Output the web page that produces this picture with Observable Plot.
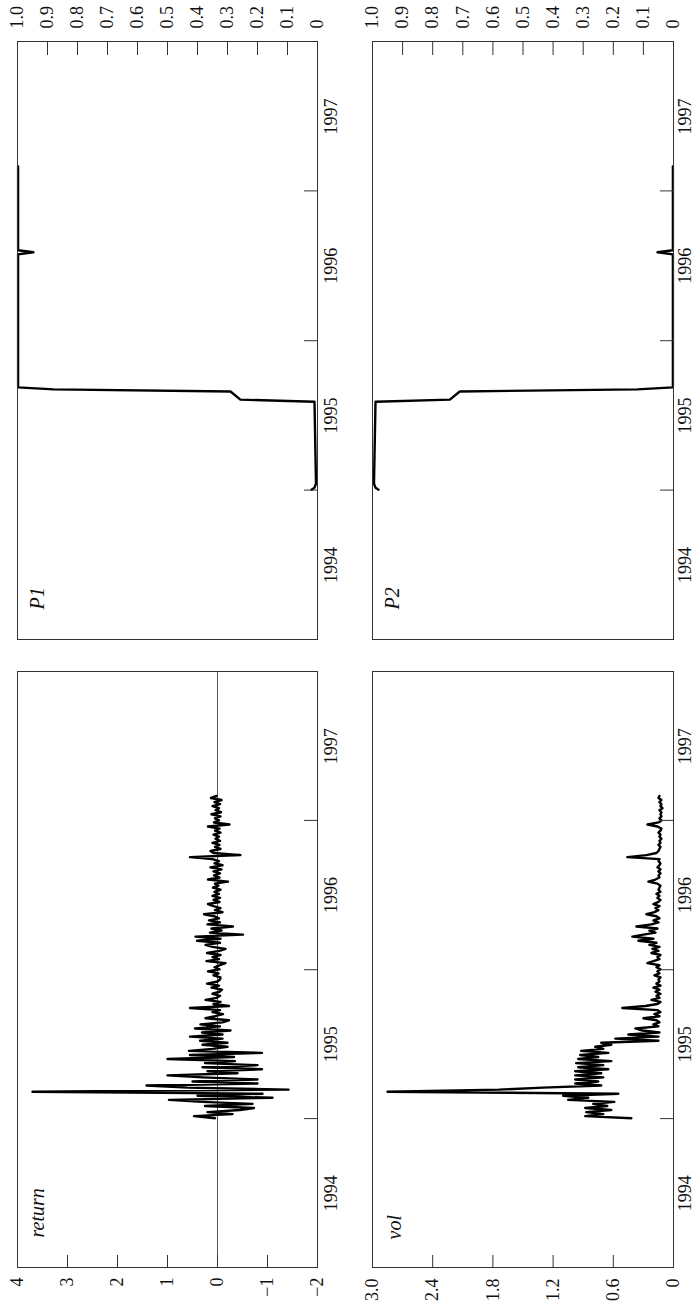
<!DOCTYPE html>
<html>
<head>
<meta charset="utf-8">
<script src="https://cdn.jsdelivr.net/npm/d3@7"></script>
<script src="https://cdn.jsdelivr.net/npm/@observablehq/plot@0.6"></script>
<style>
html, body { margin: 0; padding: 0; background: #fff; width: 695px; height: 1311px; overflow: hidden; }
#land { position: absolute; left: 0; top: 0; width: 1311px; height: 695px; transform-origin: 0 0; transform: rotate(-90deg) translateX(-1311px); }
#land svg { position: absolute; font-family: "Liberation Serif", "Times New Roman", serif !important; }
#land svg text { font-family: "Liberation Serif", "Times New Roman", serif !important; }
</style>
</head>
<body>
<div id="land"></div>
<script>
// ---- data (one observation every 5 days from 2 Jan 1995) ----
const seriesStart = [1995, 0, 2];
const stepDays = 5;

const returnVals = [
  0.05, 0.47, -0.3, 0.2, -0.45, -0.73, 0.25, -0.7, 0.3, 0.97,
  -1.1, 0.4, -0.9, 3.7, -1.42, 0.6, 1.42, -0.8, 0.5, -0.8,
  0.3, 1.0, -0.4, 0.2, -0.89, 0.3, -0.8, 0.25, -0.35, 1.0,
  -0.33, 0.55, -0.89, 0.57, 0.1, -0.2, 0.3, -0.2, 0.35, -0.1,
  0.55, -0.1, 0.31, -0.26, 0.45, -0.05, 0.34, -0.1, -0.23, 0.24,
  0.05, -0.11, 0.1, -0.05, 0.55, -0.23, 0.08, -0.06, 0.24, 0.02,
  -0.05, 0.1, -0.04, -0.09, 0.12, -0.03, 0.21, 0.0, -0.05, -0.06,
  0.08, -0.02, 0.19, -0.04, 0.06, -0.05, -0.16, 0.22, -0.03, 0.1,
  -0.06, 0.21, -0.04, -0.16, 0.1, 0.24, -0.05, 0.41, -0.06, 0.44,
  -0.51, 0.15, -0.08, 0.12, -0.31, 0.2, -0.05, 0.17, -0.03, 0.06,
  0.27, -0.1, 0.05, -0.06, 0.08, 0.19, -0.04, 0.08, -0.05, 0.1,
  -0.03, 0.06, -0.06, 0.09, -0.02, 0.05, -0.21, 0.19, -0.04, 0.07,
  -0.05, 0.08, -0.08, 0.14, -0.1, 0.06, -0.03, 0.1, 0.55, -0.46,
  0.08, 0.14, -0.06, 0.05, -0.04, 0.1, -0.05, 0.04, -0.03, 0.08,
  -0.06, 0.05, -0.04, 0.19, -0.24, 0.07, -0.03, 0.05, -0.06, 0.12,
  -0.07, 0.04, -0.03, 0.1, -0.05, 0.06, -0.08, 0.13, 0.02
];

const volVals = [
  0.42, 0.88, 0.7, 0.87, 0.62, 0.88, 0.66, 0.8, 0.59, 1.05,
  0.85, 1.1, 0.55, 2.85, 1.74, 1.3, 0.72, 0.98, 0.75, 0.98,
  0.7, 0.98, 0.72, 0.98, 0.65, 0.95, 0.7, 0.97, 0.62, 0.95,
  0.75, 0.93, 0.65, 0.92, 0.7, 0.78, 0.62, 0.72, 0.15, 0.58,
  0.15, 0.45, 0.14, 0.31, 0.38, 0.15, 0.2, 0.14, 0.17, 0.3,
  0.14, 0.19, 0.13, 0.16, 0.51, 0.28, 0.16, 0.13, 0.22, 0.14,
  0.17, 0.13, 0.18, 0.14, 0.2, 0.13, 0.17, 0.14, 0.15, 0.13,
  0.19, 0.14, 0.16, 0.13, 0.17, 0.14, 0.26, 0.2, 0.14, 0.16,
  0.13, 0.22, 0.15, 0.21, 0.14, 0.24, 0.17, 0.35, 0.2, 0.41,
  0.3, 0.18, 0.24, 0.16, 0.37, 0.22, 0.15, 0.2, 0.14, 0.17,
  0.27, 0.19, 0.15, 0.18, 0.14, 0.2, 0.15, 0.13, 0.16, 0.14,
  0.17, 0.13, 0.15, 0.14, 0.13, 0.16, 0.25, 0.18, 0.14, 0.15,
  0.13, 0.15, 0.13, 0.16, 0.14, 0.13, 0.15, 0.14, 0.46, 0.27,
  0.17, 0.15, 0.14, 0.13, 0.15, 0.13, 0.14, 0.12, 0.14, 0.13,
  0.15, 0.13, 0.12, 0.16, 0.26, 0.15, 0.12, 0.14, 0.12, 0.13,
  0.12, 0.14, 0.11, 0.13, 0.12, 0.14, 0.12, 0.15, 0.14
];

// regime probabilities: observation index and value at each turning point
const probSteps = [0, 1, 3, 43, 44, 48, 49, 50, 115, 116, 117, 158];
const p1Vals = [0.02, 0.01, 0.005, 0.01, 0.257, 0.29, 0.88, 0.998, 0.998, 0.947, 0.998, 0.998];
const p2Vals = [0.98, 0.99, 0.995, 0.99, 0.743, 0.71, 0.12, 0.002, 0.002, 0.053, 0.002, 0.002];

const yearLabels = [1994, 1995, 1996, 1997];
const yearTicks = [1995, 1996, 1997];
const returnTicks = [4, 3, 2, 1, 0, -1, -2];
const volTicks = [3.0, 2.4, 1.8, 1.2, 0.6, 0];
const probTicks = [1.0, 0.9, 0.8, 0.7, 0.6, 0.5, 0.4, 0.3, 0.2, 0.1, 0];
const panelNames = ["return", "vol", "P1", "P2"];

// ---- helpers ----
const t0 = Date.UTC(...seriesStart);
const dateAt = (k) => new Date(t0 + k * stepDays * 864e5);
const series = (vals) => vals.map((v, k) => ({date: dateAt(k), v}));
const steps = (vals) => vals.map((v, i) => ({date: dateAt(probSteps[i]), v}));
const xDomain = [new Date(Date.UTC(1994, 0, 1)), new Date(Date.UTC(1998, 0, 1))];
const yearTickDates = yearTicks.map((y) => new Date(Date.UTC(y, 0, 1)));
const yearMidDates = yearLabels.map((y) => new Date(Date.UTC(y, 6, 2)));
const fmtReturn = (d) => (d < 0 ? "\u2212" + Math.abs(d) : String(d));
const fmtDec = (d) => (d === 0 ? "0" : d.toFixed(1));

const INK = "#000";
const FRAME = "#333";
const TICK = 13;
const SERIF = "'Liberation Serif', 'Times New Roman', serif";

function panel(o) {
  const side = o.axis === "right" ? 1 : 0;
  const inner = o.ticks.slice(1, -1);
  const marks = [];
  if (o.zero) marks.push(Plot.ruleY([0], {stroke: "#555", strokeWidth: 1}));
  marks.push(
    Plot.line(o.data, {x: "date", y: "v", stroke: INK, strokeWidth: 2.4, strokeLinejoin: "round", strokeLinecap: "round"}),
    Plot.frame({stroke: FRAME, strokeWidth: 1}),
    Plot.ruleX(yearTickDates, {x: (d) => d, y1: () => o.domain[0], y2: () => o.domain[0], insetTop: -TICK, stroke: FRAME, strokeWidth: 1}),
    Plot.ruleY(inner, side
      ? {y: (d) => d, x1: () => xDomain[1], x2: () => xDomain[1], insetLeft: -TICK, stroke: FRAME, strokeWidth: 1}
      : {y: (d) => d, x1: () => xDomain[0], x2: () => xDomain[0], insetRight: -TICK, stroke: FRAME, strokeWidth: 1}),
    Plot.axisX(yearMidDates, {tickSize: 0, tickPadding: o.yearPad, tickFormat: (d) => String(d.getUTCFullYear()), label: null, fill: "#111", fontSize: 18}),
    Plot.axisY(o.ticks, {anchor: o.axis, tickSize: 0, tickPadding: o.valPad, tickFormat: o.fmt, label: null, fill: "#111", fontSize: 18}),
    Plot.text([o.name], {text: (d) => d, frameAnchor: "top-left", dx: o.labelDx, dy: o.labelDy, lineAnchor: "bottom", textAnchor: "start", fontStyle: "italic", fontSize: 20, fill: "#111"})
  );
  const svg = Plot.plot({
    width: o.width, height: o.height,
    marginLeft: o.ml, marginRight: o.mr, marginTop: o.mt, marginBottom: o.mb,
    x: {type: "utc", domain: xDomain, label: null},
    y: {domain: o.domain, label: null},
    style: {fontFamily: SERIF, fontSize: "18px", background: "transparent", overflow: "visible"},
    marks
  });
  svg.setAttribute("font-family", SERIF);
  svg.querySelectorAll("text").forEach((t) => t.setAttribute("font-family", SERIF));
  svg.style.left = o.left + "px";
  svg.style.top = o.top + "px";
  document.getElementById("land").appendChild(svg);
}

panel({name: panelNames[0], data: series(returnVals), domain: [-2, 4], ticks: returnTicks, fmt: fmtReturn, axis: "left", zero: true,
  left: 0, top: 0, width: 655, height: 350, ml: 43, mr: 16, mt: 17, mb: 33, yearPad: 7, valPad: 10, labelDx: 30, labelDy: 26});
panel({name: panelNames[2], data: steps(p1Vals), domain: [0, 1], ticks: probTicks, fmt: fmtDec, axis: "right",
  left: 655, top: 0, width: 656, height: 350, ml: 16, mr: 42, mt: 17, mb: 33, yearPad: 7, valPad: 13, labelDx: 30, labelDy: 26});
panel({name: panelNames[1], data: series(volVals), domain: [0, 3], ticks: volTicks, fmt: fmtDec, axis: "left",
  left: 0, top: 350, width: 655, height: 345, ml: 43, mr: 16, mt: 22, mb: 22, yearPad: 5, valPad: 11, labelDx: 28, labelDy: 28});
panel({name: panelNames[3], data: steps(p2Vals), domain: [0, 1], ticks: probTicks, fmt: fmtDec, axis: "right",
  left: 655, top: 350, width: 656, height: 345, ml: 16, mr: 42, mt: 22, mb: 22, yearPad: 5, valPad: 13, labelDx: 30, labelDy: 26});
</script>
</body>
</html>
